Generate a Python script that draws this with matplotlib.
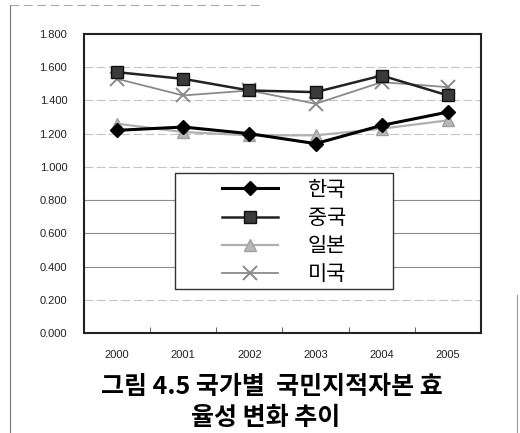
import matplotlib
matplotlib.use("Agg")
import matplotlib.pyplot as plt
from matplotlib.patches import Rectangle
from matplotlib.lines import Line2D

plt.rcParams['font.family'] = ['Noto Sans CJK KR', 'DejaVu Sans']

years = ["2000", "2001", "2002", "2003", "2004", "2005"]
korea = [1.22, 1.24, 1.20, 1.14, 1.25, 1.33]
china = [1.57, 1.53, 1.46, 1.45, 1.55, 1.43]
japan = [1.26, 1.21, 1.19, 1.19, 1.23, 1.28]
usa = [1.53, 1.43, 1.46, 1.38, 1.51, 1.48]
labels = ["한국", "중국", "일본", "미국"]
yticks = [0.0, 0.2, 0.4, 0.6, 0.8, 1.0, 1.2, 1.4, 1.6, 1.8]

fig = plt.figure(figsize=(5.2, 4.33), dpi=100)
ax = fig.add_axes([84/520, 1-333/433, 397/520, 299/433])

x = list(range(len(years)))
l1, = ax.plot(x, korea, color='black', lw=2.2, marker='D', ms=7, mfc='black', mec='black', zorder=6)
l2, = ax.plot(x, china, color='#222222', lw=1.8, marker='s', ms=9, mfc='#3a3a3a', mec='#111111', zorder=5)
l3, = ax.plot(x, japan, color='#b0b0b0', lw=1.6, marker='^', ms=9, mfc='#b8b8b8', mec='#a0a0a0', zorder=4)
l4, = ax.plot(x, usa, color='#8a8a8a', lw=1.3, marker='x', ms=10, mew=1.4, zorder=4)

ax.set_xlim(-0.5, 5.5)
ax.set_ylim(0, 1.8)
ax.set_yticks(yticks)
ax.set_yticklabels([f"{v:.3f}" for v in yticks], fontsize=8, family='Liberation Sans', color='#222222')
ax.set_xticks(x)
ax.set_xticklabels(years, fontsize=8, family='Liberation Sans', color='#222222')
ax.tick_params(axis='x', length=0, pad=12)
ax.tick_params(axis='y', length=0, pad=12)
ax.set_xticks([i - 0.5 for i in range(1, 6)], minor=True)
ax.tick_params(axis='x', which='minor', direction='in', length=4, color='#444444')
for v in yticks[1:-1]:
    if 0.3 < v < 0.9:
        ax.axhline(v, color='#8c8c8c', lw=0.8, zorder=1)
    else:
        ax.axhline(v, color='#c4c4c4', lw=0.8, ls=(0, (8, 3)), zorder=1)
for s in ax.spines.values():
    s.set_color('#222222')
    s.set_linewidth(1.5)

# legend box
x0, y0 = (175-84)/397, (333-289)/299
w, h = (393-175)/397, (289-173)/299
ax.add_patch(Rectangle((x0, y0), w, h, transform=ax.transAxes, facecolor='white',
                       edgecolor='#333333', lw=1.0, zorder=7))
leg = ax.legend([l1, l2, l3, l4], labels, loc='upper left',
                bbox_to_anchor=((220-84)/397 - 0.005, (333-173)/299 - 0.005),
                frameon=False, fontsize=15, handlelength=2.7, handletextpad=1.4,
                labelspacing=0.3, borderpad=0.2, borderaxespad=0)
leg.set_zorder(8)

fig.text(0.523, 1-387/433, "그림 4.5 국가별  국민지적자본 효", ha='center', va='center',
         fontsize=18, fontweight='bold')
fig.text(0.51, 1-418/433, "율성 변화 추이", ha='center', va='center',
         fontsize=18, fontweight='bold')

# outer frame remnants
fig.add_artist(Line2D([10/520, 10/520], [0, 1-5/433], color='#777777', lw=0.8))
fig.add_artist(Line2D([10/520, 260/520], [1-5/433, 1-5/433], color='#aaaaaa', lw=0.8, ls=(0, (8, 4))))
fig.add_artist(Line2D([517/520, 517/520], [0, 1-295/433], color='#999999', lw=0.8))

fig.savefig("out.png", dpi=100)
